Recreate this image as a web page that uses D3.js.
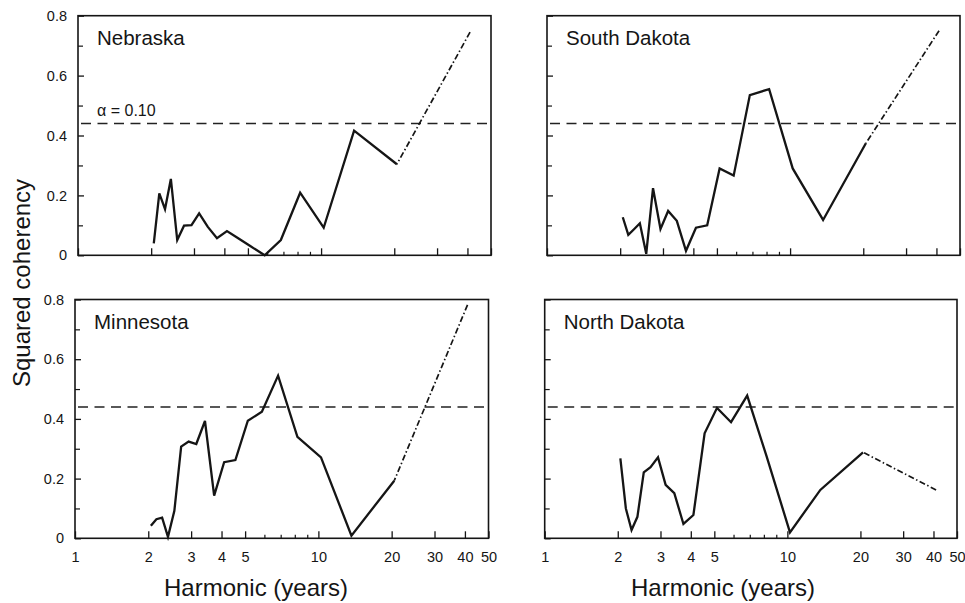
<!DOCTYPE html>
<html>
<head>
<meta charset="utf-8">
<script src="https://cdn.jsdelivr.net/npm/d3@7"></script>
<style>
  html, body { margin: 0; padding: 0; background: #fff; }
  svg { display: block; font-family: "Liberation Sans", Arial, Helvetica, sans-serif; }
</style>
</head>
<body>
<svg id="chart" width="965" height="603"></svg>
<script>
// Harmonic periods (years), k = 1..20
const harmonics = [41, 20.5, 13.67, 10.25, 8.2, 6.83, 5.86, 5.13, 4.56, 4.1,
                   3.73, 3.42, 3.15, 2.93, 2.73, 2.56, 2.41, 2.28, 2.16, 2.05];

const nebraska = [0.745, 0.304, 0.416, 0.092, 0.209, 0.051, 0.0, 0.030, 0.057, 0.081,
                  0.057, 0.095, 0.140, 0.101, 0.099, 0.051, 0.255, 0.154, 0.207, 0.040];
const southDakota = [0.750, 0.374, 0.118, 0.290, 0.555, 0.535, 0.266, 0.290, 0.100, 0.092,
                     0.015, 0.115, 0.148, 0.088, 0.224, 0.005, 0.107, 0.087, 0.068, 0.127];
const minnesota = [0.782, 0.193, 0.009, 0.271, 0.340, 0.545, 0.424, 0.394, 0.262, 0.255,
                   0.143, 0.393, 0.316, 0.324, 0.307, 0.092, 0.005, 0.069, 0.064, 0.042];
const northDakota = [0.162, 0.288, 0.162, 0.020, 0.276, 0.478, 0.389, 0.437, 0.352, 0.078,
                     0.048, 0.151, 0.179, 0.271, 0.238, 0.221, 0.072, 0.028, 0.100, 0.268];

const stateNames = ["Nebraska", "South Dakota", "Minnesota", "North Dakota"];
const significance = 0.44;          // alpha = 0.10 critical level
const alphaLabel = "\u03b1 = 0.10";

const xMajorTicks = [1, 2, 3, 4, 5, 10, 20, 30, 40, 50];
const xMinorTicks = [6, 7, 8, 9];
const yMajorTicks = [0, 0.2, 0.4, 0.6, 0.8];
const yMinorTicks = [0.1, 0.3, 0.5, 0.7];

const xTitle = "Harmonic (years)";
const yTitle = "Squared coherency";

// panel frames (layout)
const panels = [
  { name: stateNames[0], values: nebraska,    x0: 78,    x1: 491,   y0: 15.7,  y1: 255.3, yLabels: true,  xLabels: false, alpha: true },
  { name: stateNames[1], values: southDakota, x0: 547,   x1: 960,   y0: 15.7,  y1: 255.3, yLabels: false, xLabels: false, alpha: false },
  { name: stateNames[2], values: minnesota,   x0: 75,    x1: 488.5, y0: 299.5, y1: 538.3, yLabels: true,  xLabels: true,  alpha: false },
  { name: stateNames[3], values: northDakota, x0: 544.7, x1: 957,   y0: 299.5, y1: 538.3, yLabels: false, xLabels: true,  alpha: false }
];

const ink = "#151515";
const svg = d3.select("#chart");

panels.forEach(p => {
  const x = d3.scaleLog().domain([1, 50]).range([p.x0, p.x1]);
  const y = d3.scaleLinear().domain([0, 0.8]).range([p.y1, p.y0]);
  const g = svg.append("g");

  // x ticks (inward)
  const xa = g.append("g").attr("transform", `translate(0,${p.y1})`)
    .call(d3.axisBottom(x).tickValues(xMajorTicks).tickSizeInner(-7).tickSizeOuter(0)
      .tickPadding(13.5).tickFormat(p.xLabels ? d3.format("d") : () => ""));
  xa.select(".domain").remove();
  xa.selectAll("line").attr("stroke", ink).attr("stroke-width", 1.3);
  xa.selectAll("text").attr("font-size", 14.5).attr("fill", ink).style("font-family", "inherit");
  const xm = g.append("g").attr("transform", `translate(0,${p.y1})`)
    .call(d3.axisBottom(x).tickValues(xMinorTicks).tickSizeInner(-3.5).tickSizeOuter(0).tickFormat(() => ""));
  xm.select(".domain").remove();
  xm.selectAll("line").attr("stroke", ink).attr("stroke-width", 1.2);

  // y ticks (inward)
  const ya = g.append("g").attr("transform", `translate(${p.x0},0)`)
    .call(d3.axisLeft(y).tickValues(yMajorTicks).tickSizeInner(-6).tickSizeOuter(0)
      .tickPadding(11).tickFormat(p.yLabels ? (d => d === 0 ? "0" : d3.format(".1f")(d)) : () => ""));
  ya.select(".domain").remove();
  ya.selectAll("line").attr("stroke", ink).attr("stroke-width", 1.3);
  ya.selectAll("text").attr("font-size", 14.5).attr("fill", ink).style("font-family", "inherit");
  const ym = g.append("g").attr("transform", `translate(${p.x0},0)`)
    .call(d3.axisLeft(y).tickValues(yMinorTicks).tickSizeInner(-5).tickSizeOuter(0).tickFormat(() => ""));
  ym.select(".domain").remove();
  ym.selectAll("line").attr("stroke", ink).attr("stroke-width", 1.2);

  // frame
  g.append("rect")
    .attr("x", p.x0).attr("y", p.y0)
    .attr("width", p.x1 - p.x0).attr("height", p.y1 - p.y0)
    .attr("fill", "none").attr("stroke", ink).attr("stroke-width", 1.6);

  // significance line
  g.append("line")
    .attr("x1", p.x0 + 3).attr("x2", p.x1)
    .attr("y1", y(significance)).attr("y2", y(significance))
    .attr("stroke", "#222").attr("stroke-width", 1.5)
    .attr("stroke-dasharray", "10,6.5");

  // data
  const pts = harmonics.map((h, i) => ({ h, v: p.values[i] }));
  const line = d3.line().x(d => x(d.h)).y(d => y(d.v));
  g.append("path")
    .datum(pts.slice(1))
    .attr("d", line)
    .attr("fill", "none").attr("stroke", ink)
    .attr("stroke-width", 2.3).attr("stroke-linejoin", "miter");
  g.append("path")
    .datum(pts.slice(0, 2))
    .attr("d", line)
    .attr("fill", "none").attr("stroke", ink)
    .attr("stroke-width", 1.7)
    .attr("stroke-dasharray", "6,2.5,1.5,2.5");

  // panel title
  g.append("text")
    .attr("x", p.x0 + 19).attr("y", p.y0 + 29)
    .attr("font-size", 20.5).attr("fill", ink)
    .text(p.name);

  if (p.alpha) {
    g.append("text")
      .attr("x", p.x0 + 19).attr("y", y(significance) - 8)
      .attr("font-size", 16).attr("fill", ink)
      .text(alphaLabel);
  }
});

// axis titles
svg.append("text")
  .attr("transform", "translate(30,283) rotate(-90)")
  .attr("text-anchor", "middle")
  .attr("font-size", 24).attr("fill", ink)
  .text(yTitle);

[256, 723].forEach(cx => {
  svg.append("text")
    .attr("x", cx).attr("y", 596)
    .attr("text-anchor", "middle")
    .attr("font-size", 24).attr("fill", ink)
    .text(xTitle);
});
</script>
</body>
</html>
